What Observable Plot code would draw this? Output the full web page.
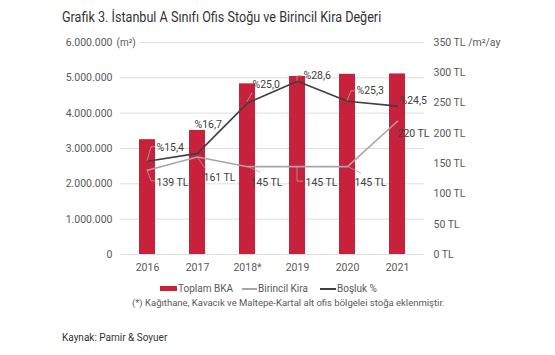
<!DOCTYPE html>
<html><head><meta charset="utf-8">
<script src="https://cdn.jsdelivr.net/npm/d3@7"></script>
<script src="https://cdn.jsdelivr.net/npm/@observablehq/plot@0.6"></script>
<style>
body{margin:0;background:#fff;font-family:Roboto,sans-serif;color:#404040;width:555px;height:355px;position:relative;overflow:hidden}
.abs{position:absolute;white-space:nowrap}
#title{left:62px;top:8px;font-size:14px;line-height:18px;color:#333;transform:scaleX(0.9);transform-origin:left center}
.lg{font-size:10px;line-height:12px;color:#595959}
#chart{position:absolute;left:0;top:30px}
</style></head><body>
<div id="title" class="abs">Grafik 3. İstanbul A Sınıfı Ofis Stoğu ve Birincil Kira Değeri</div>
<div id="chart"></div>
<div class="abs" style="left:160px;top:286px;width:17px;height:5px;background:#c8213c"></div>
<div class="abs lg" style="left:178px;top:283px">Toplam BKA</div>
<div class="abs" style="left:242px;top:288px;width:15px;height:1.5px;background:#a6a6a6"></div>
<div class="abs lg" style="left:258px;top:283px">Birincil Kira</div>
<div class="abs" style="left:320px;top:288px;width:16px;height:1.5px;background:#404040"></div>
<div class="abs lg" style="left:337px;top:283px">Boşluk %</div>
<div class="abs lg" style="left:132px;top:297px;font-size:9.5px">(*) Kağıthane, Kavacık ve Maltepe-Kartal alt ofis bölgelei stoğa eklenmiştir.</div>
<div class="abs lg" style="left:62px;top:332px;color:#333">Kaynak: Pamir &amp; Soyuer</div>
<script>
// ---- data ----
const years = ["2016", "2017", "2018*", "2019", "2020", "2021"];
const stock = [3250000, 3510000, 4830000, 5040000, 5100000, 5110000]; // Toplam BKA (m²)
const rent = [139, 161, 145, 145, 145, 220];                          // Birincil Kira (TL/m²/ay)
const vacancy = [15.4, 16.7, 25.0, 28.6, 25.3, 24.5];                 // Boşluk %
const leftTicks = [0, 1000000, 2000000, 3000000, 4000000, 5000000, 6000000];
const rightTicks = [0, 50, 100, 150, 200, 250, 300, 350];

// ---- label placement (pixel offsets, style only) ----
const vacLabelOffsets = [[9, -14], [-3, -29], [5, -18], [6, -6], [9, -11], [2, -5]];
const rentLabelOffsets = [[9, 12], [6, 21], [3, 16], [8, 16], [7, 16], [0, 12]];
const vacLeaders = [[[0,0],[4,-14],[8,-14]], null, [[0,-1],[5,-10]], [[0,0],[0,-5],[5,-5]], [[0,0],[4,-10],[8,-10]], null];
const rentLeaders = [[[0,0],[4,11],[8,11]], [[0,0],[9,13]], [[0,0],[13,6]], [[0,0],[0,15],[6,15]], [[0,0],[14,7]], null];

// secondary axis: 350 TL  <->  6.000.000 m² ; Boşluk % plotted as %×10 on the TL axis
const k = 6000000 / 350;
const rows = years.map((year, i) => ({
  year, stock: stock[i], rent: rent[i], vac: vacancy[i],
  rentY: rent[i] * k, vacY: vacancy[i] * 10 * k
}));

const fmtM = d3.formatLocale({thousands: ".", grouping: [3], decimal: ","}).format(",");
const fmtPct = v => "%" + v.toFixed(1).replace(".", ",");

function leaderMark(index, scales) {
  const x = scales.x, y = scales.y, bw = x.bandwidth ? x.bandwidth() : 0;
  const g = d3.create("svg:g").attr("fill", "none").attr("stroke", "#a6a6a6").attr("stroke-width", 0.8);
  rows.forEach((r, i) => {
    const cx = x(r.year) + bw / 2;
    [[vacLeaders[i], r.vacY], [rentLeaders[i], r.rentY]].forEach(([pts, v]) => {
      if (!pts) return;
      const cy = y(v);
      g.append("path").attr("d", d3.line()(pts.map(([dx, dy]) => [cx + dx, cy + dy])));
    });
  });
  return g.node();
}

const labelMarks = [];
rows.forEach((r, i) => {
  labelMarks.push(Plot.text([r], {x: "year", y: "vacY", text: d => fmtPct(d.vac), dx: vacLabelOffsets[i][0], dy: vacLabelOffsets[i][1], textAnchor: "start", fill: "#404040", fontSize: 10.5}));
  labelMarks.push(Plot.text([r], {x: "year", y: "rentY", text: d => d.rent + " TL", dx: rentLabelOffsets[i][0], dy: rentLabelOffsets[i][1], textAnchor: "start", fill: "#404040", fontSize: 10.5}));
});

const plot = Plot.plot({
  width: 555,
  height: 250,
  marginTop: 12,
  marginBottom: 26,
  marginLeft: 120,
  marginRight: 131,
  style: {fontFamily: "Roboto, sans-serif", fontSize: "10.5px", color: "#595959", background: "transparent"},
  x: {domain: years, paddingInner: 0.68, paddingOuter: 0.34, label: null},
  y: {domain: [0, 6000000], label: null},
  marks: [
    Plot.ruleY(leftTicks.filter(t => t < 6000000), {stroke: "#dedede", strokeWidth: 1}),
    Plot.ruleY([6000000], {stroke: "#dedede", strokeWidth: 1, insetLeft: 20}),
    Plot.text([6000000], {y: d => d, frameAnchor: "left", dx: -4, text: () => "(m²)", textAnchor: "start", fill: "#595959", fontSize: 10}),
    Plot.axisY({ticks: leftTicks, tickFormat: d => fmtM(d), tickSize: 0, tickPadding: 8, label: null, fill: "#595959"}),
    Plot.axisY({anchor: "right", ticks: rightTicks.map(t => t * k), tickFormat: d => { const v = Math.round(d / k); return v === 350 ? "350 TL /m²/ay" : v + " TL"; }, tickSize: 0, tickPadding: 9, label: null, fill: "#595959"}),
    Plot.axisX({tickSize: 0, tickPadding: 9, label: null, fill: "#595959"}),
    Plot.barY(rows, {x: "year", y: "stock", fill: "#c8213c"}),
    Plot.line(rows, {x: "year", y: "rentY", stroke: "#a6a6a6", strokeWidth: 1.6}),
    Plot.line(rows, {x: "year", y: "vacY", stroke: "#404040", strokeWidth: 1.6}),
    leaderMark,
    ...labelMarks
  ]
});
document.getElementById("chart").appendChild(plot);
</script>
</body></html>
